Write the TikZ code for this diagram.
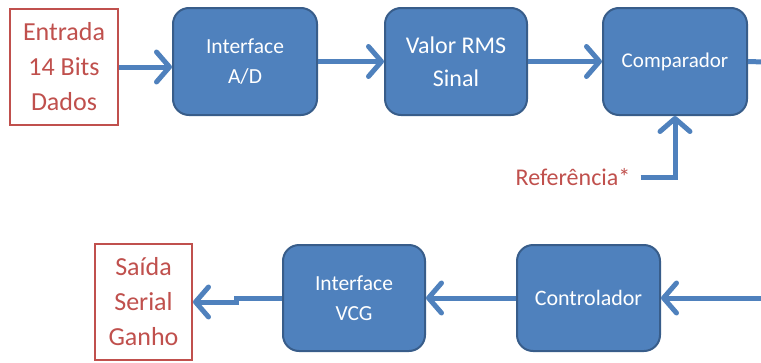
\documentclass[tikz,border=0pt]{standalone}
\usepackage{fontspec}
\setmainfont{Carlito}
\usetikzlibrary{arrows.meta,positioning}
\definecolor{offblue}{HTML}{4F81BD}
\definecolor{offborder}{HTML}{385D8A}
\definecolor{offred}{HTML}{C0504D}
\tikzset{
  blockbox/.style={draw=offborder, line width=2pt, fill=offblue, rounded corners=16pt,
    text=white, align=center, inner sep=0pt},
  iobox/.style={draw=offred, line width=2pt, fill=white, text=offred, align=center, inner sep=0pt,
    font=\fontsize{26}{35}\selectfont},
  conn/.style={draw=offblue, line width=5pt,
    -{Straight Barb[length=13pt,width=30pt,line cap=round,line join=round]}},
  plainline/.style={draw=offblue, line width=5pt}
}
\begin{document}
\begin{tikzpicture}[x=1pt,y=-1pt]
\useasboundingbox (0,0) rectangle (761,362);
\node[iobox, minimum width=108pt, minimum height=116pt] (ent) at (64,67) {Entrada\\14 Bits\\Dados};
\node[blockbox, minimum width=144pt, minimum height=107pt, font=\fontsize{21.5}{30}\selectfont] (ifad) at (245,61.5) {Interface\\A/D};
\node[blockbox, minimum width=142pt, minimum height=107pt, font=\fontsize{24}{33}\selectfont] (rms) at (456,61.5) {Valor RMS\\Sinal};
\node[blockbox, minimum width=144pt, minimum height=107pt, font=\fontsize{21}{30}\selectfont] (comp) at (675,61.5) {Comparador};
\node[text=offred, font=\fontsize{24}{30}\selectfont, inner sep=0pt] (ref) at (573,177) {Referência*};
\node[iobox, minimum width=97pt, minimum height=116pt] (sai) at (143.5,302) {Saída\\Serial\\Ganho};
\node[blockbox, minimum width=142pt, minimum height=106pt, font=\fontsize{21.5}{30}\selectfont] (vcg) at (354,298) {Interface\\VCG};
\node[blockbox, minimum width=143pt, minimum height=106pt, font=\fontsize{22}{30}\selectfont] (ctrl) at (588.5,298) {Controlador};
\coordinate (outr) at (764,62);
\coordinate (inr) at (764,298);
\draw[conn] (ent.east) -- (ent.east -| ifad.west);
\draw[conn] (ifad.east) -- (rms.west);
\draw[conn] (rms.east) -- (comp.west);
\draw[plainline] (comp.east) -- (outr);
\draw[conn] ([xshift=10pt]ref.east) -| (comp.south);
\draw[conn] (inr) -- (ctrl.east);
\draw[conn] (ctrl.west) -- (vcg.east);
\draw[conn] (vcg.west) -- ++(-46,0) |- (sai.east);
\end{tikzpicture}
\end{document}
